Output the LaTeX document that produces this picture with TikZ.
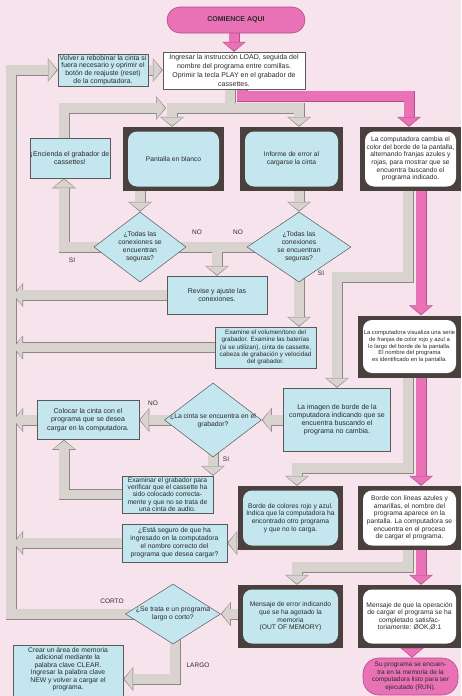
\documentclass[tikz,border=0pt]{standalone}
\usepackage{fontspec}
\setmainfont{Liberation Sans}
\usetikzlibrary{shapes.geometric,arrows.meta,calc}
\definecolor{bgpink}{HTML}{F6E3EC}
\definecolor{lblue}{HTML}{C4E6EF}
\definecolor{gfill}{HTML}{D8D3CF}
\definecolor{gborder}{HTML}{8C8784}
\definecolor{pfill}{HTML}{E872B5}
\definecolor{pborder}{HTML}{B24C8C}
\definecolor{tvframe}{HTML}{4A403D}
\definecolor{textc}{HTML}{2A2A2A}
\definecolor{boxline}{HTML}{5A5A5A}
\pgfdeclarelayer{bgl}
\pgfdeclarelayer{pipel}
\pgfsetlayers{bgl,pipel,main}

\newcommand\greypipes{%
 \draw[gpa] (rewind.east) -- (load.west |- rewind.east);
 \draw[gpa] (d4.center) -| (lpc) -- (rewind.west);
 \draw[gp] (load.south -| ga) -- (ga);
 \draw[gpa] (ga) -| ([xshift=-1.5pt]tvPB.north);
 \draw[gpa] (ga) -| ([xshift=7.5pt]tvIE.north);
 \draw[gpa] (encienda.north -| ea) -- (ea) -- (eb);
 \draw[gpa] (tvPB.center -| d1.north) -- (d1.north);
 \draw[gpa] (d1.center) -| ([xshift=-6pt]encienda.south);
 \draw[gp] (d1.center) -- (d2.center);
 \draw[gpa] (d1.center -| revise.north) -- (revise.north);
 \draw[gpa] (tvIE.center -| d2.north) -- (d2.north);
 \draw[gpa] (d2.center) -- (d2.center |- examine.north);
 \draw[gpa] (revise.center) -- (revise.center -| lp);
 \draw[gpa] (examine.center) -- (examine.center -| lp);
 \draw[gpa] ([xshift=-2.5pt]tv1.center) -- ++(0,118) -| (imagen.north);
 \draw[gpa] ([xshift=-1.5pt]tv2.center) -- ++(0,121.5) -| ([xshift=6.5pt]tv3.north);
 \draw[gpa] ([xshift=-1.5pt]tv4.center) -- ++(0,49) -| ([xshift=6.5pt]tv5.north);
 \draw[gpa] (imagen.center |- d3.east) -- (d3.east);
 \draw[gpa] (d3.center) -- (colocar.east);
 \draw[gpa] (colocar.center) -- (colocar.center -| lp);
 \draw[gpa] (d3.center) -- (d3.center |- examinar.north);
 \draw[gpa] (examinar.center) -| ([xshift=-24pt]colocar.south);
 \draw[gpa] (tv3.center |- seguro.east) -- (seguro.east);
 \draw[gpa] (seguro.center) -- (seguro.center -| lp);
 \draw[gpa] (tv5.center |- d4.east) -- (d4.east);
 \draw[gpa] ([xshift=2pt]d4.center) |- ([yshift=-6.5pt]crear.east);
}
\newcommand\pinkpipes{%
 \draw[ppa] (start.center -| load.north) -- (load.north);
 \draw[ppa] ([xshift=8pt]load.center) -- (pa) -| ([xshift=-1.5pt]tv1.north);
 \draw[ppa] ([xshift=10.5pt]tv1.center) -- ([xshift=11.5pt]tv2.north);
 \draw[ppa] ([xshift=11.5pt]tv2.center) -- ([xshift=11.5pt]tv4.north);
 \draw[ppa] ([xshift=11.5pt]tv4.center) -- ([xshift=11.5pt]tv6.north);
 \draw[ppa] ([xshift=2.5pt]tv6.center) -- ([xshift=1.5pt]final.north);
}

\begin{document}
\begin{tikzpicture}[x=1pt,y=-1pt,
  txt/.style={text=textc, align=center, inner sep=0pt, font=\fontsize{7}{8.2}\selectfont},
  box/.style={txt, rectangle, draw=boxline, line width=0.5pt, fill=lblue},
  tv/.style={txt, rectangle, fill=tvframe, font=\fontsize{6.7}{7.6}\selectfont,
    path picture={\fill[#1, rounded corners=9pt]
      ($(path picture bounding box.north west)+(5,4.5)$) rectangle
      ($(path picture bounding box.south east)+(-5,-4.5)$);}},
  dia/.style={diamond, draw=boxline, line width=0.5pt, fill=lblue, inner sep=0pt},
  lab/.style={text=textc, inner sep=0pt, font=\fontsize{6.5}{7}\selectfont},
  term/.style={txt, rectangle, draw=pborder, line width=0.6pt, fill=pfill}
]
\useasboundingbox (0,0) rectangle (461,696);
\begin{pgfonlayer}{bgl}
\fill[bgpink] (0,0) rectangle (461,696);
\end{pgfonlayer}

% coordinates for bends
\coordinate (lpc) at (11,70);
\coordinate (lp) at (13,0);
\coordinate (ga) at (230,108);
\coordinate (pa) at (242,96);
\coordinate (ea) at (64,108);
\coordinate (eb) at (166,108);

% nodes
\node[term, rounded corners=13pt, minimum width=138pt, minimum height=26pt,
  font=\bfseries\fontsize{7}{8}\selectfont] (start) at (236,20) {COMIENCE AQUI};
\node[box, fill=white, minimum width=142pt, minimum height=37pt,
  font=\fontsize{7}{9}\selectfont] (load) at (234,70.5)
  {Ingresar la instrucción LOAD, seguida del\\nombre del programa entre comillas.\\Oprimir la tecla PLAY en el grabador de\\cassettes.};
\node[box, minimum width=90pt, minimum height=32pt,
  font=\fontsize{6.9}{7.7}\selectfont] (rewind) at (103,70)
  {Volver a rebobinar la cinta si\\fuera necesario y oprimir el\\botón de reajuste (reset)\\de la computadora.};
\node[box, minimum width=80pt, minimum height=40pt] (encienda) at (70,158)
  {¡Encienda el grabador de\\cassettes!};

\node[tv=lblue, minimum width=101pt, minimum height=64pt] (tvPB) at (173.5,159) {Pantalla en blanco};
\node[tv=lblue, minimum width=103pt, minimum height=64pt] (tvIE) at (291.5,159) {Informe de error al\\cargarse la cinta};
\node[tv=white, minimum width=101pt, minimum height=64pt] (tv1) at (410.5,159)
  {La computadora cambia el\\color del borde de la pantalla,\\alternando franjas azules y\\rojas, para mostrar que se\\encuentra buscando el\\programa indicado.};

\node[dia, minimum width=92pt, minimum height=70pt] (d1) at (140,247) {};
\node[txt, font=\fontsize{6.8}{8}\selectfont] (d1t) at (140,247) {¿Todas las\\conexiones se\\encuentran\\seguras?};
\node[dia, minimum width=104pt, minimum height=70pt] (d2) at (299,247) {};
\node[txt, font=\fontsize{6.8}{8}\selectfont] (d2t) at (299,247) {¿Todas las\\conexiones\\se encuentran\\seguras?};

\node[box, minimum width=100pt, minimum height=38pt] (revise) at (217,295) {Revise y ajuste las\\conexiones.};
\node[box, minimum width=101pt, minimum height=41pt, font=\fontsize{6.3}{7.3}\selectfont] (examine) at (265.5,347.5)
  {Examine el volumen/tono del\\grabador. Examine las baterías\\(si se utilizan), cinta de cassette,\\cabeza de grabación y velocidad\\del grabador.};

\node[tv=white, minimum width=103pt, minimum height=62pt, font=\fontsize{5.8}{6.8}\selectfont] (tv2) at (409.5,346.5)
  {La computadora visualiza una serie\\de franjas de color rojo y azul a\\lo largo del borde de la pantalla.\\El nombre del programa\\es identificado en la pantalla.};

\node[box, minimum width=107pt, minimum height=63pt] (imagen) at (337,419.5)
  {La imagen de borde de la\\computadora indicando que se\\encuentra buscando el\\programa no cambia.};
\node[dia, minimum width=97pt, minimum height=74pt] (d3) at (213,420) {};
\node[txt, font=\fontsize{6.8}{8}\selectfont] (d3t) at (213,421) {¿La cinta se encuentra en el\\grabador?};
\node[box, minimum width=102pt, minimum height=39pt] (colocar) at (88,420)
  {Colocar la cinta con el\\programa que se desea\\cargar en la computadora.};
\node[box, minimum width=91pt, minimum height=37pt, font=\fontsize{6.7}{7.1}\selectfont] (examinar) at (167.5,494.5)
  {Examinar el grabador para\\verificar que el cassette ha\\sido colocado correcta-\\mente y que no se trata de\\una cinta de audio.};

\node[tv=lblue, minimum width=105pt, minimum height=64pt] (tv3) at (290.5,518)
  {Borde de colores rojo y azul.\\Indica que la computadora ha\\encontrado otro programa\\y que no lo carga.};
\node[tv=white, minimum width=103pt, minimum height=64pt] (tv4) at (409.5,518)
  {Borde con líneas azules y\\amarillas, el nombre del\\programa aparece en la\\pantalla. La computadora se\\encuentra en el proceso\\de cargar el programa.};
\node[box, minimum width=105pt, minimum height=38pt, font=\fontsize{6.8}{8}\selectfont] (seguro) at (174.5,543)
  {¿Está seguro de que ha\\ingresado en la computadora\\el nombre correcto del\\programa que desea cargar?};

\node[tv=lblue, minimum width=105pt, minimum height=63pt] (tv5) at (290.5,616.5)
  {Mensaje de error indicando\\que se ha agotado la\\memoria\\(OUT OF MEMORY)};
\node[tv=white, minimum width=103pt, minimum height=63pt] (tv6) at (409.5,616.5)
  {Mensaje de que la operación\\de cargar el programa se ha\\completado satisfac-\\toriamente: ØOK,Ø:1};
\node[dia, minimum width=95pt, minimum height=60pt] (d4) at (173,614) {};
\node[txt, font=\fontsize{6.8}{8}\selectfont] (d4t) at (173,614) {¿Se trata e un programa\\largo o corto?};

\node[box, minimum width=110pt, minimum height=55pt] (crear) at (68,672.5) {};
\node[txt, font=\fontsize{6.8}{7.5}\selectfont] (creart) at (68,669)
  {Crear un área de memoria\\adicional mediante la\\palabra clave CLEAR.\\Ingresar la palabra clave\\NEW y volver a cargar el\\programa.};
\node[term, rounded corners=16pt, minimum width=95pt, minimum height=37pt,
  font=\fontsize{6.5}{7.5}\selectfont] (final) at (410.5,676.5)
  {Su programa se encuen-\\tra en la memoria de la\\computadora listo para ser\\ejecutado (RUN).};

% labels
\node[lab] (siA) at (72,260) {SI};
\node[lab] (noA) at (197,232) {NO};
\node[lab] (noB) at (238,232) {NO};
\node[lab] (siB) at (321,273) {SI};
\node[lab] (noC) at (153,403) {NO};
\node[lab] (siC) at (226,459) {SI};
\node[lab] (corto) at (112,601) {CORTO};
\node[lab] (largo) at (198,665) {LARGO};

% pipes
\begin{pgfonlayer}{pipel}
\begin{scope}[gp/.style={line width=11pt, draw=gborder, line join=miter},
  gpa/.style={gp, -{Triangle[width=24pt,length=10pt,line width=0pt]}}]
  \greypipes
\end{scope}
\begin{scope}[gp/.style={line width=9.6pt, draw=gfill, line join=miter},
  gpa/.style={gp, shorten >=1.1pt, -{Triangle[width=21.6pt,length=8.3pt,line width=0pt]}}]
  \greypipes
\end{scope}
\begin{scope}[pp/.style={line width=11pt, draw=pborder, line join=miter},
  ppa/.style={pp, -{Triangle[width=24pt,length=10pt,line width=0pt]}}]
  \pinkpipes
\end{scope}
\begin{scope}[pp/.style={line width=9.6pt, draw=pfill, line join=miter},
  ppa/.style={pp, shorten >=1.1pt, -{Triangle[width=21.6pt,length=8.3pt,line width=0pt]}}]
  \pinkpipes
\end{scope}
\end{pgfonlayer}
\end{tikzpicture}
\end{document}
